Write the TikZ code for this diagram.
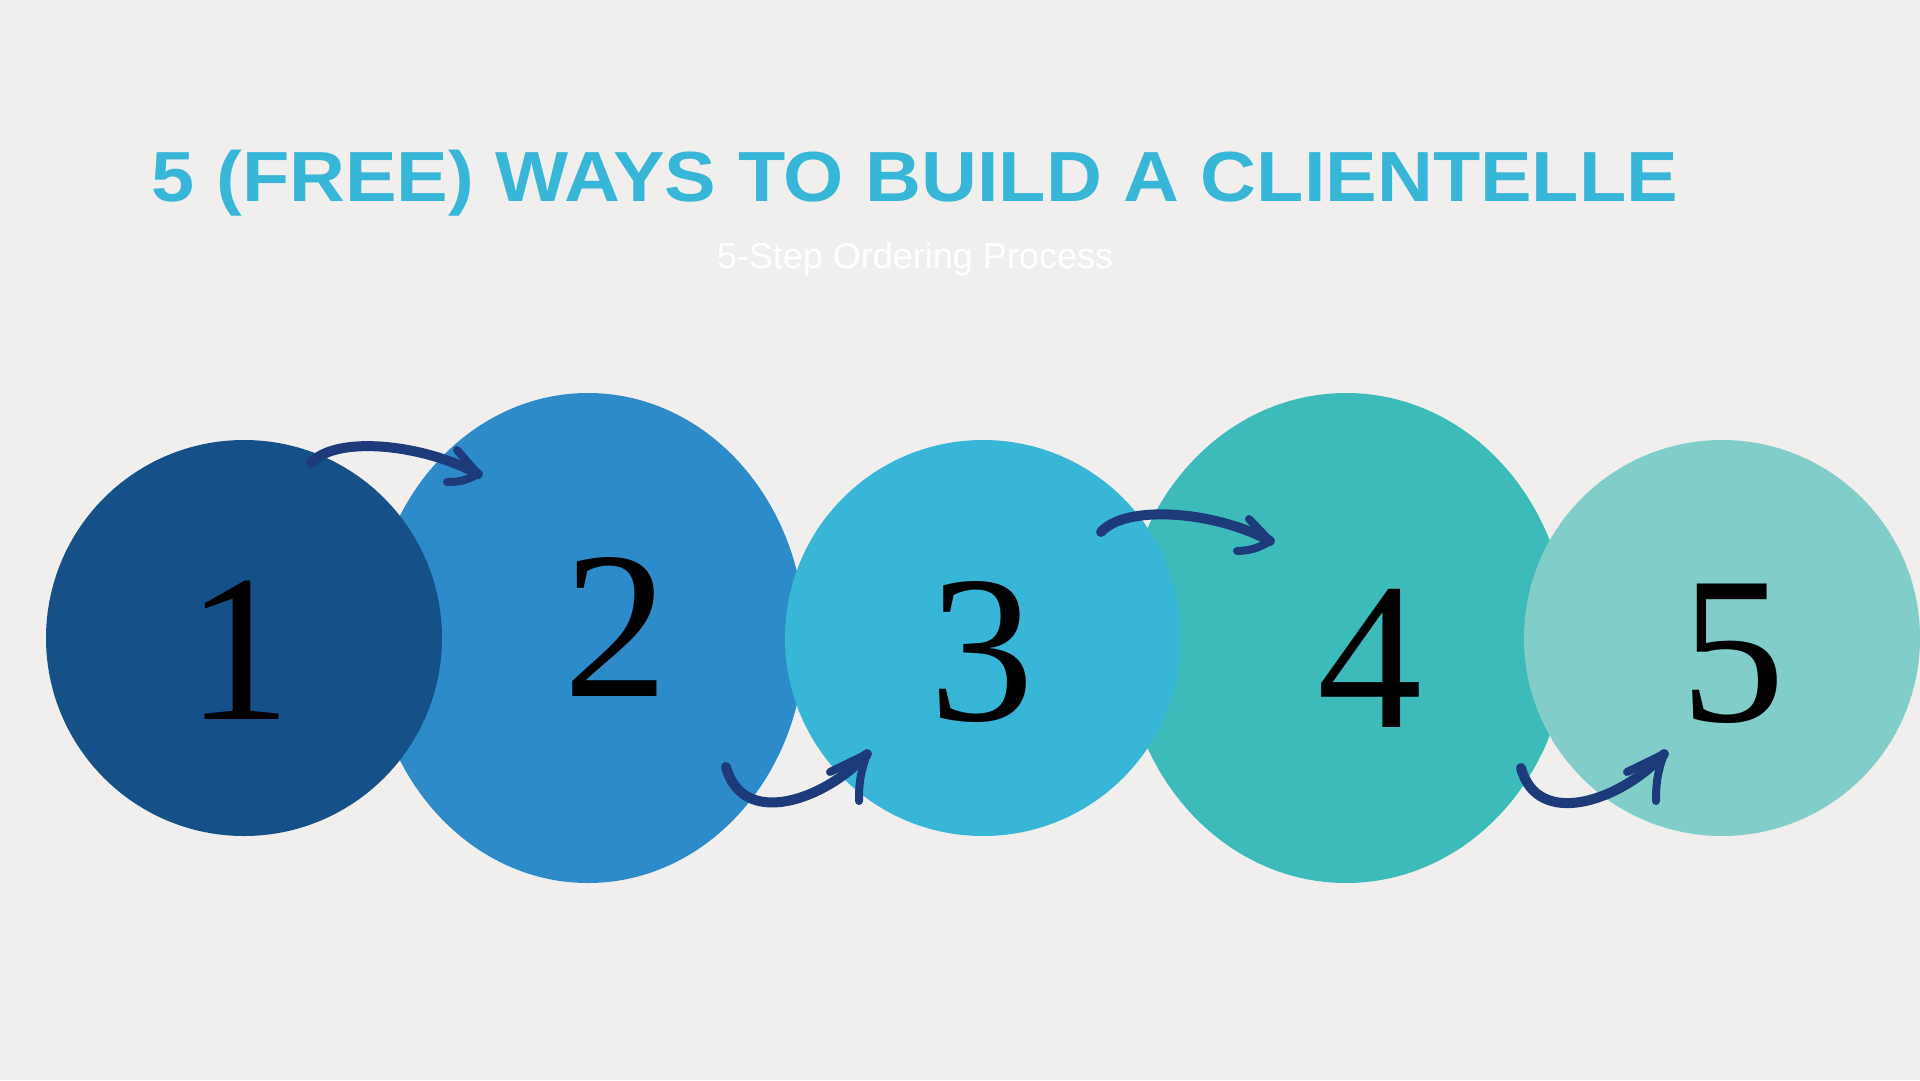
\documentclass[tikz,border=0pt]{standalone}
\usepackage{fontspec}
\setmainfont{Liberation Serif}
\newfontfamily\headfont{Liberation Sans}
\usetikzlibrary{positioning,shapes.geometric}
\definecolor{bgGrey}{RGB}{240,239,237}
\definecolor{stepOne}{RGB}{21,81,136}
\definecolor{stepTwo}{RGB}{46,139,201}
\definecolor{stepThree}{RGB}{56,182,216}
\definecolor{stepFour}{RGB}{61,187,186}
\definecolor{stepFive}{RGB}{128,205,201}
\definecolor{arrowBlue}{RGB}{29,58,122}

\begin{document}
\begin{tikzpicture}[
    x=1pt, y=-1pt,
    bubble/.style={circle, fill=#1, minimum size=396pt, inner sep=0pt},
    oval/.style={ellipse, fill=#1, minimum width=434pt, minimum height=490pt, inner sep=0pt},
    digit/.style={font=\fontsize{210}{210}\selectfont, inner sep=0pt, anchor=base},
    sweep/.style={draw=arrowBlue, line width=10pt, line cap=round},
    barb/.style={draw=arrowBlue, line width=8pt, line cap=round}
]
  \fill[bgGrey] (0,0) rectangle (1920,1080);
  \useasboundingbox (0,0) rectangle (1920,1080);

  % heading
  \node[font=\headfont\bfseries\fontsize{71}{71}\selectfont, text=stepThree, anchor=base, inner sep=0pt] (title) at (915,201)
    {\scalebox{1.09}[1]{5 (FREE) WAYS TO BUILD A CLIENTELLE}};
  \node[font=\headfont\fontsize{36}{36}\selectfont, text=white, anchor=base, inner sep=0pt] (subtitle) at (915,268)
    {5-Step Ordering Process};

  % the five steps
  \node[oval=stepTwo] (s2) at (588,638) {};
  \node[oval=stepFour, minimum width=444pt] (s4) at (1346,638) {};
  \node[bubble=stepOne] (s1) at (244,638) {};
  \node[bubble=stepThree] (s3) at (983,638) {};
  \node[bubble=stepFive] (s5) at (1722,638) {};

  \node[digit] (n1) at (239,719) {1};
  \node[digit] (n2) at (616,696) {2};
  \node[digit] (n3) at (982,720) {3};
  \node[digit] (n4) at (1370,727) {4};
  \node[digit] (n5) at (1733,721) {5};

  % hand drawn arrows
  \coordinate (a1s) at (311,463);
  \coordinate (a1e) at (478,474);
  \coordinate (a2s) at (726,767);
  \coordinate (a2e) at (867,754);
  \coordinate (a3s) at (1101,532);
  \coordinate (a3e) at (1270,541);
  \coordinate (a4s) at (1521,768);
  \coordinate (a4e) at (1664,754);

  \draw[sweep] (a1s) .. controls +(25,-28) and +(-55,-30) .. (a1e);
  \draw[barb] (a1e) -- +(-21,-24);
  \draw[barb] (a1e) to[bend left=15] +(-31,8);

  \draw[sweep] (a2s) .. controls +(17,62) and +(-42,46) .. (a2e);
  \draw[barb] (a2e) -- +(-37,18);
  \draw[barb] (a2e) to[bend right=10] +(-8,47);

  \draw[sweep] (a3s) .. controls +(25,-28) and +(-55,-30) .. (a3e);
  \draw[barb] (a3e) -- +(-21,-22);
  \draw[barb] (a3e) to[bend left=15] +(-33,10);

  \draw[sweep] (a4s) .. controls +(17,62) and +(-42,46) .. (a4e);
  \draw[barb] (a4e) -- +(-37,18);
  \draw[barb] (a4e) to[bend right=10] +(-8,47);
\end{tikzpicture}
\end{document}
